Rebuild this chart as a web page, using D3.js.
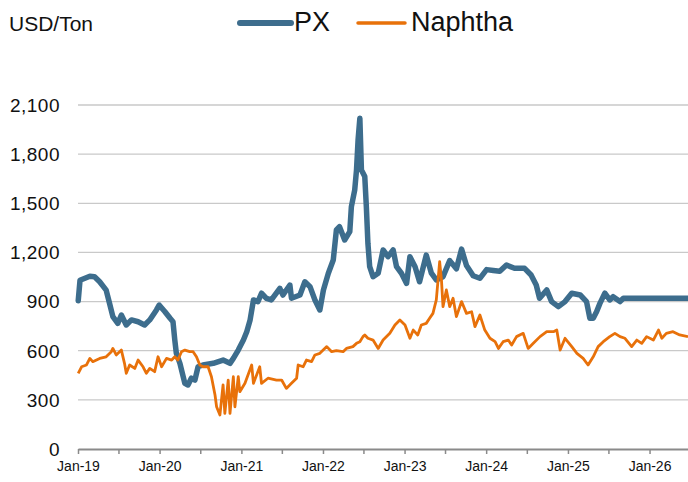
<!DOCTYPE html>
<html>
<head>
<meta charset="utf-8">
<script src="https://cdn.jsdelivr.net/npm/d3@7"></script>
<style>
  body { margin: 0; background: #fff; }
  text { font-family: "Liberation Sans", Arial, sans-serif; fill: #111; }
</style>
</head>
<body>
<div id="chart"></div>
<script>
// PX weekly-ish readings (USD/Ton)
var pxDates = ["2019-01-02","2019-01-10","2019-02-23","2019-03-16","2019-04-08","2019-05-07","2019-05-22","2019-06-06","2019-06-28","2019-07-14","2019-08-05","2019-08-28","2019-09-27","2019-10-26","2019-11-18","2019-12-18","2019-12-30","2020-01-25","2020-02-17","2020-03-01","2020-03-09","2020-03-16","2020-04-01","2020-04-23","2020-05-07","2020-05-22","2020-06-07","2020-06-21","2020-07-13","2020-08-28","2020-10-11","2020-11-11","2020-11-26","2020-12-18","2021-01-10","2021-01-25","2021-02-09","2021-02-24","2021-03-16","2021-04-01","2021-04-23","2021-05-15","2021-06-22","2021-07-06","2021-08-06","2021-08-13","2021-09-20","2021-10-12","2021-11-04","2021-11-26","2021-12-18","2022-01-03","2022-01-25","2022-02-16","2022-03-02","2022-03-16","2022-04-08","2022-05-01","2022-05-08","2022-05-23","2022-05-31","2022-06-07","2022-06-15","2022-06-22","2022-07-07","2022-07-14","2022-07-21","2022-07-29","2022-08-13","2022-09-05","2022-09-27","2022-10-19","2022-11-11","2022-11-26","2022-12-18","2023-01-10","2023-01-25","2023-02-17","2023-03-09","2023-04-08","2023-05-01","2023-05-23","2023-06-22","2023-07-22","2023-08-21","2023-09-13","2023-10-05","2023-11-04","2023-12-04","2024-01-03","2024-02-02","2024-03-02","2024-04-01","2024-05-07","2024-06-21","2024-07-20","2024-08-12","2024-08-27","2024-09-28","2024-10-20","2024-11-19","2024-12-19","2025-01-18","2025-02-25","2025-03-25","2025-04-09","2025-04-24","2025-05-09","2025-05-24","2025-06-15","2025-07-07","2025-07-22","2025-08-22","2025-09-06","2026-06-22"];
var pxValues = [905,1030,1055,1052,1021,970,890,808,767,818,757,788,777,757,788,849,879,838,798,777,665,584,523,401,391,432,421,502,513,523,543,523,553,604,665,716,788,910,900,951,920,910,981,940,1001,920,940,1021,991,910,849,971,1073,1154,1337,1357,1276,1327,1479,1581,1703,1886,2019,1703,1663,1479,1256,1113,1052,1073,1215,1174,1215,1113,1073,1011,1174,1113,1021,1184,1073,1032,1052,1150,1100,1220,1120,1058,1042,1095,1090,1085,1123,1103,1103,1062,1001,920,971,900,869,900,951,940,900,798,798,838,889,951,910,930,900,920,920];

// Naphtha readings (USD/Ton)
var naphthaDates = ["2019-01-02","2019-01-17","2019-02-08","2019-02-23","2019-03-08","2019-04-08","2019-05-07","2019-05-30","2019-06-06","2019-06-21","2019-07-14","2019-07-28","2019-08-05","2019-08-20","2019-09-12","2019-09-27","2019-10-19","2019-11-03","2019-11-18","2019-12-10","2019-12-25","2020-01-10","2020-02-01","2020-02-24","2020-03-09","2020-03-23","2020-04-08","2020-04-23","2020-05-15","2020-05-30","2020-06-14","2020-06-29","2020-07-13","2020-08-05","2020-08-20","2020-09-05","2020-09-12","2020-09-27","2020-10-11","2020-10-19","2020-11-03","2020-11-11","2020-11-26","2020-12-03","2020-12-18","2020-12-25","2021-01-17","2021-02-16","2021-02-24","2021-03-24","2021-04-01","2021-04-30","2021-06-07","2021-06-30","2021-07-21","2021-08-13","2021-09-05","2021-09-12","2021-10-04","2021-10-19","2021-11-11","2021-11-26","2021-12-18","2022-01-18","2022-02-09","2022-03-02","2022-04-01","2022-04-16","2022-05-15","2022-05-31","2022-06-15","2022-06-29","2022-07-07","2022-07-21","2022-08-13","2022-09-05","2022-09-27","2022-10-27","2022-11-19","2022-12-11","2023-01-03","2023-01-25","2023-02-09","2023-03-01","2023-03-17","2023-04-08","2023-04-23","2023-05-08","2023-05-23","2023-06-07","2023-06-15","2023-06-22","2023-07-07","2023-07-22","2023-08-06","2023-08-21","2023-09-13","2023-10-05","2023-10-28","2023-11-12","2023-12-04","2023-12-26","2024-01-18","2024-02-10","2024-02-25","2024-03-17","2024-04-09","2024-04-24","2024-05-16","2024-06-15","2024-07-07","2024-07-30","2024-08-29","2024-09-28","2024-10-28","2024-11-12","2024-11-27","2024-12-19","2025-01-18","2025-02-10","2025-03-10","2025-04-01","2025-04-24","2025-05-16","2025-06-08","2025-07-07","2025-07-30","2025-08-22","2025-09-13","2025-10-13","2025-11-05","2025-11-27","2025-12-19","2026-01-18","2026-02-10","2026-02-25","2026-03-17","2026-04-16","2026-05-16","2026-06-22"];
var naphthaValues = [462,502,513,553,533,553,563,594,614,574,604,523,462,513,492,543,502,462,492,472,563,502,553,543,563,543,594,604,594,594,563,513,502,502,441,330,258,208,391,217,421,217,441,258,441,350,401,513,401,502,401,432,421,421,370,401,432,513,502,543,533,574,584,625,594,600,594,614,625,645,655,686,696,676,665,614,665,706,757,788,757,676,726,696,757,767,798,828,910,1144,1032,869,971,869,920,808,900,828,838,747,818,726,676,655,614,655,665,635,686,706,614,645,686,716,716,726,604,676,625,584,553,513,563,625,655,686,706,686,676,625,665,645,686,665,726,676,706,716,696,686];

var yTicks = [0, 300, 600, 900, 1200, 1500, 1800, 2100];
var seriesNames = ["PX", "Naphtha"];
var seriesColors = ["#3d6d8d", "#e8710a"];

var W = 688, H = 482;
var parse = d3.timeParse("%Y-%m-%d");

var svg = d3.select("#chart").append("svg")
    .attr("width", W)
    .attr("height", H);

var x = d3.scaleTime()
    .domain([parse("2019-01-01"), parse("2026-07-01")])
    .range([78, 690]);

var y = d3.scaleLinear()
    .domain([0, 2100])
    .range([449, 105]);

// gridlines
svg.append("g").selectAll("line")
    .data(yTicks.filter(function (d) { return d > 0; }))
    .enter().append("line")
    .attr("x1", 78).attr("x2", W)
    .attr("y1", function (d) { return y(d); })
    .attr("y2", function (d) { return y(d); })
    .attr("stroke", "#c9c9c9")
    .attr("stroke-width", 1.3);

// y labels
svg.append("g").selectAll("text")
    .data(yTicks)
    .enter().append("text")
    .attr("x", 60)
    .attr("y", function (d) { return y(d); })
    .attr("dy", "0.36em")
    .attr("text-anchor", "end")
    .style("font-size", "19px")
    .style("letter-spacing", "0.5px")
    .text(d3.format(","));

// x axis, ticks every 6 months, labels in January
var xTicks = d3.timeMonth.every(6).range(parse("2019-01-01"), parse("2026-07-02"));
var xAxis = svg.append("g")
    .attr("transform", "translate(0," + y(0) + ")")
    .call(d3.axisBottom(x)
        .tickValues(xTicks)
        .tickSize(5)
        .tickSizeOuter(0)
        .tickPadding(7)
        .tickFormat(function (d) { return d.getMonth() === 0 ? d3.timeFormat("Jan-%y")(d) : ""; }));
xAxis.select(".domain").attr("stroke", "#8a8a8a").attr("stroke-width", 2);
xAxis.selectAll(".tick line").attr("stroke", "#8a8a8a").attr("stroke-width", 1.5);
xAxis.selectAll(".tick text")
    .style("font-size", "14px")
    .style("font-family", "'Liberation Sans', Arial, sans-serif")
    .attr("fill", "#111");

var line = d3.line()
    .x(function (d) { return x(d.date); })
    .y(function (d) { return y(d.value); });

function toSeries(dates, values) {
    return dates.map(function (d, i) { return { date: parse(d), value: values[i] }; });
}

svg.append("path")
    .datum(toSeries(pxDates, pxValues))
    .attr("fill", "none")
    .attr("stroke", seriesColors[0])
    .attr("stroke-width", 5.5)
    .attr("stroke-linejoin", "round")
    .attr("stroke-linecap", "round")
    .attr("d", line);

svg.append("path")
    .datum(toSeries(naphthaDates, naphthaValues))
    .attr("fill", "none")
    .attr("stroke", seriesColors[1])
    .attr("stroke-width", 2.8)
    .attr("stroke-linejoin", "round")
    .attr("d", line);

// unit label
svg.append("text")
    .attr("x", 9)
    .attr("y", 31)
    .style("font-size", "21px")
    .text("USD/Ton");

// legend
var legend = [
    { name: seriesNames[0], color: seriesColors[0], w: 6, x1: 240, x2: 291, tx: 294 },
    { name: seriesNames[1], color: seriesColors[1], w: 3.5, x1: 358, x2: 405, tx: 411 }
];
var lg = svg.append("g");
legend.forEach(function (l) {
    lg.append("line")
        .attr("x1", l.x1).attr("x2", l.x2)
        .attr("y1", 23).attr("y2", 23)
        .attr("stroke", l.color)
        .attr("stroke-width", l.w)
        .attr("stroke-linecap", "round");
    lg.append("text")
        .attr("x", l.tx)
        .attr("y", 31)
        .style("font-size", "27px")
        .text(l.name);
});
</script>
</body>
</html>
